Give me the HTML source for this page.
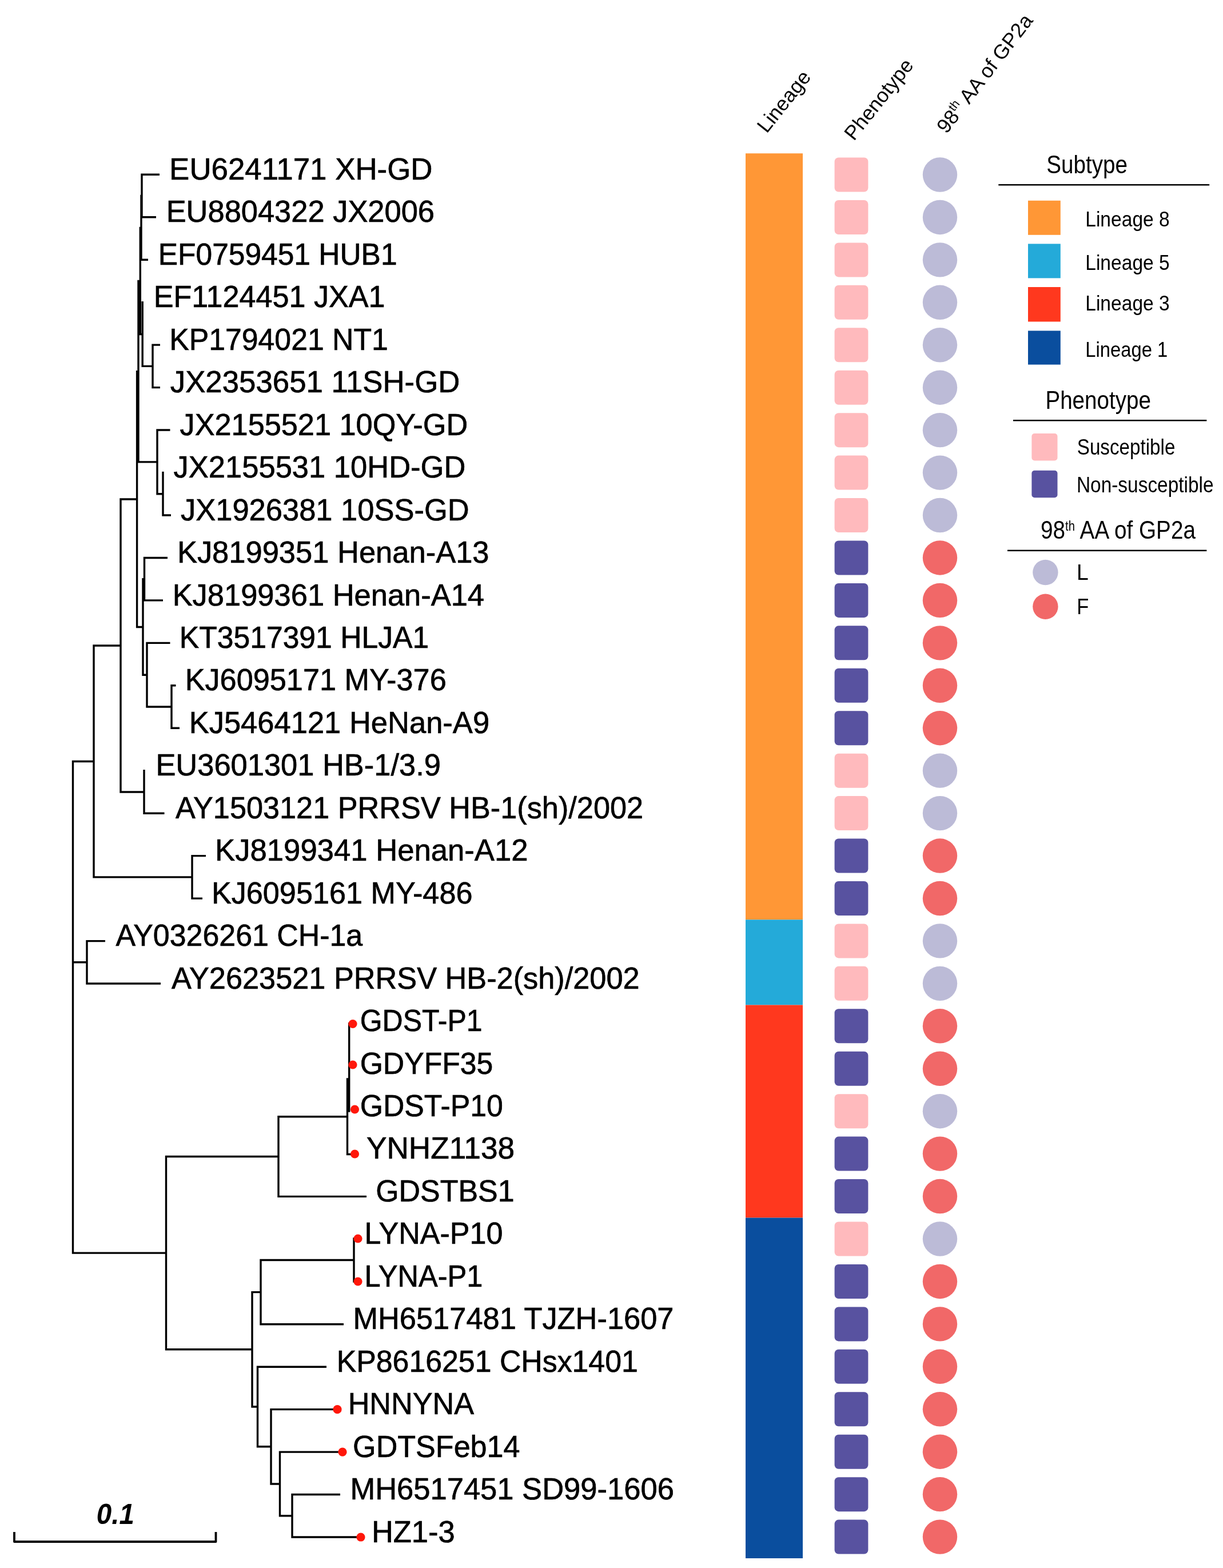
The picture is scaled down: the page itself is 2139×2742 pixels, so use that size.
<!DOCTYPE html>
<html><head><meta charset="utf-8"><title>Phylogenetic tree</title>
<style>
html,body{margin:0;padding:0;background:#fff;}
body{width:2139px;height:2742px;overflow:hidden;}
svg{display:block;}
text{font-family:"Liberation Sans",Arial,Helvetica,sans-serif;fill:#000;}
</style></head><body>
<svg width="2139" height="2742" viewBox="0 0 2139 2742">
<rect width="2139" height="2742" fill="#fff"/>
<path d="M248.00 303.60V381.46M246.30 305.30H279.00M246.30 379.76H273.00M245.30 342.53H248.00M247.00 340.83V455.92M245.30 454.22H259.00M243.60 398.38H247.00M245.30 396.68V586.23M243.60 584.52H249.20M249.20 526.98V642.07M247.50 640.37H267.00M267.00 601.44V679.30M265.30 603.14H280.00M265.30 677.60H280.00M240.30 491.45H245.30M242.00 489.75V809.61M240.30 807.90H275.00M275.00 750.36V865.45M273.30 752.06H297.50M273.30 863.75H285.00M285.00 824.82V902.68M283.30 900.98H299.00M237.90 649.68H242.00M239.60 647.98V1098.14M237.90 1096.44H250.00M250.00 1010.97V1181.90M248.30 1012.67H252.50M252.50 973.74V1051.60M250.80 975.44H293.00M250.80 1049.90H285.00M248.30 1180.20H257.00M257.00 1122.66V1237.75M255.30 1124.36H297.50M255.30 1236.05H300.00M300.00 1197.12V1274.98M298.30 1198.82H307.50M298.30 1273.28H314.00M209.30 873.06H239.60M211.00 871.36V1386.67M209.30 1384.97H252.00M252.00 1346.04V1423.90M250.30 1422.20H287.50M162.30 1129.01H211.00M164.00 1127.31V1535.59M162.30 1533.89H336.00M336.00 1494.96V1572.82M334.30 1496.66H360.00M334.30 1571.12H354.00M152.00 1643.88V1721.74M150.30 1645.58H184.00M150.30 1720.04H281.00M125.80 1682.81H152.00M610.70 1788.30V1944.70M605.80 1887.00H610.70M607.50 1885.30V2020.20M605.80 2018.50H617.00M487.00 1951.05V2094.04M485.30 1952.75H607.50M485.30 2092.34H641.00M619.00 2164.30V2242.70M456.00 2201.80V2317.42M454.30 2203.50H619.00M454.30 2315.72H601.00M511.00 2611.86V2689.72M509.30 2613.56H595.00M509.30 2688.02H631.00M489.50 2537.40V2652.49M487.80 2539.10H599.00M487.80 2650.79H511.00M474.00 2462.94V2596.64M472.30 2464.64H590.00M472.30 2594.94H489.50M450.50 2388.48V2531.49M448.80 2390.18H571.00M448.80 2529.79H474.00M441.00 2257.91V2461.69M439.30 2259.61H456.00M439.30 2459.99H450.50M290.50 2020.85V2361.50M288.80 2022.55H487.00M288.80 2359.80H441.00M125.80 2191.17H290.50M127.50 1329.75V2192.87M125.80 1331.45H164.00" stroke="#000" stroke-width="3.4" fill="none"/>
<circle cx="617" cy="1790.50" r="7.6" fill="#FF170A"/>
<circle cx="617" cy="1862.00" r="7.6" fill="#FF170A"/>
<circle cx="620.5" cy="1940.00" r="7.6" fill="#FF170A"/>
<circle cx="620.5" cy="2018.00" r="7.6" fill="#FF170A"/>
<circle cx="626" cy="2166.00" r="7.6" fill="#FF170A"/>
<circle cx="626" cy="2241.00" r="7.6" fill="#FF170A"/>
<circle cx="590" cy="2464.64" r="7.6" fill="#FF170A"/>
<circle cx="599" cy="2539.10" r="7.6" fill="#FF170A"/>
<circle cx="631" cy="2688.02" r="7.6" fill="#FF170A"/>
<g font-size="54.3" stroke="#000" stroke-width="0.7">
<text x="296.11" y="313.90" textLength="460.44" lengthAdjust="spacingAndGlyphs">EU6241171 XH-GD</text>
<text x="290.64" y="388.36" textLength="469.41" lengthAdjust="spacingAndGlyphs">EU8804322 JX2006</text>
<text x="276.71" y="462.82" textLength="417.90" lengthAdjust="spacingAndGlyphs">EF0759451 HUB1</text>
<text x="268.66" y="537.28" textLength="404.85" lengthAdjust="spacingAndGlyphs">EF1124451 JXA1</text>
<text x="296.19" y="611.74" textLength="382.68" lengthAdjust="spacingAndGlyphs">KP1794021 NT1</text>
<text x="297.78" y="686.20" textLength="506.60" lengthAdjust="spacingAndGlyphs">JX2353651 11SH-GD</text>
<text x="314.54" y="760.66" textLength="503.62" lengthAdjust="spacingAndGlyphs">JX2155521 10QY-GD</text>
<text x="303.53" y="835.12" textLength="510.86" lengthAdjust="spacingAndGlyphs">JX2155531 10HD-GD</text>
<text x="316.03" y="909.58" textLength="504.61" lengthAdjust="spacingAndGlyphs">JX1926381 10SS-GD</text>
<text x="309.88" y="984.04" textLength="545.64" lengthAdjust="spacingAndGlyphs">KJ8199351 Henan-A13</text>
<text x="301.64" y="1058.50" textLength="545.42" lengthAdjust="spacingAndGlyphs">KJ8199361 Henan-A14</text>
<text x="313.69" y="1132.96" textLength="436.56" lengthAdjust="spacingAndGlyphs">KT3517391 HLJA1</text>
<text x="323.65" y="1207.42" textLength="457.05" lengthAdjust="spacingAndGlyphs">KJ6095171 MY-376</text>
<text x="330.63" y="1281.88" textLength="525.46" lengthAdjust="spacingAndGlyphs">KJ5464121 HeNan-A9</text>
<text x="272.39" y="1356.34" textLength="498.51" lengthAdjust="spacingAndGlyphs">EU3601301 HB-1/3.9</text>
<text x="307.00" y="1430.80" textLength="818.08" lengthAdjust="spacingAndGlyphs">AY1503121 PRRSV HB-1(sh)/2002</text>
<text x="376.12" y="1505.26" textLength="547.38" lengthAdjust="spacingAndGlyphs">KJ8199341 Henan-A12</text>
<text x="369.91" y="1579.72" textLength="456.55" lengthAdjust="spacingAndGlyphs">KJ6095161 MY-486</text>
<text x="202.50" y="1654.18" textLength="431.74" lengthAdjust="spacingAndGlyphs">AY0326261 CH-1a</text>
<text x="300.00" y="1728.64" textLength="818.58" lengthAdjust="spacingAndGlyphs">AY2623521 PRRSV HB-2(sh)/2002</text>
<text x="629.74" y="1803.10" textLength="213.84" lengthAdjust="spacingAndGlyphs">GDST-P1</text>
<text x="629.64" y="1877.56" textLength="232.66" lengthAdjust="spacingAndGlyphs">GDYFF35</text>
<text x="629.64" y="1952.02" textLength="250.29" lengthAdjust="spacingAndGlyphs">GDST-P10</text>
<text x="641.02" y="2026.48" textLength="259.03" lengthAdjust="spacingAndGlyphs">YNHZ1138</text>
<text x="657.13" y="2100.94" textLength="242.45" lengthAdjust="spacingAndGlyphs">GDSTBS1</text>
<text x="637.42" y="2175.40" textLength="242.01" lengthAdjust="spacingAndGlyphs">LYNA-P10</text>
<text x="637.53" y="2249.86" textLength="206.82" lengthAdjust="spacingAndGlyphs">LYNA-P1</text>
<text x="617.39" y="2324.32" textLength="561.06" lengthAdjust="spacingAndGlyphs">MH6517481 TJZH-1607</text>
<text x="588.68" y="2398.78" textLength="527.16" lengthAdjust="spacingAndGlyphs">KP8616251 CHsx1401</text>
<text x="608.66" y="2473.24" textLength="220.39" lengthAdjust="spacingAndGlyphs">HNNYNA</text>
<text x="617.12" y="2547.70" textLength="292.42" lengthAdjust="spacingAndGlyphs">GDTSFeb14</text>
<text x="612.38" y="2622.16" textLength="566.47" lengthAdjust="spacingAndGlyphs">MH6517451 SD99-1606</text>
<text x="649.89" y="2696.62" textLength="145.67" lengthAdjust="spacingAndGlyphs">HZ1-3</text>
</g>
<path d="M25 2679V2696H377.5V2679" stroke="#000" stroke-width="3.8" fill="none" stroke-linejoin="round"/>
<text x="168.85" y="2664.5" font-size="50" font-weight="bold" font-style="italic" textLength="66.04" lengthAdjust="spacingAndGlyphs">0.1</text>
<rect x="1304" y="268.25" width="100" height="1340" fill="#FF9736"/>
<rect x="1304" y="1608.25" width="100" height="149.25" fill="#24AAD9"/>
<rect x="1304" y="1757.5" width="100" height="372" fill="#FF381E"/>
<rect x="1304" y="2129.5" width="100" height="595.5" fill="#0A4E9E"/>
<rect x="1459.6" y="275.50" width="58.8" height="60" rx="7" fill="#FFBABD"/>
<circle cx="1644" cy="305.50" r="30.2" fill="#BCBBD7"/>
<rect x="1459.6" y="349.94" width="58.8" height="60" rx="7" fill="#FFBABD"/>
<circle cx="1644" cy="379.94" r="30.2" fill="#BCBBD7"/>
<rect x="1459.6" y="424.38" width="58.8" height="60" rx="7" fill="#FFBABD"/>
<circle cx="1644" cy="454.38" r="30.2" fill="#BCBBD7"/>
<rect x="1459.6" y="498.82" width="58.8" height="60" rx="7" fill="#FFBABD"/>
<circle cx="1644" cy="528.82" r="30.2" fill="#BCBBD7"/>
<rect x="1459.6" y="573.26" width="58.8" height="60" rx="7" fill="#FFBABD"/>
<circle cx="1644" cy="603.26" r="30.2" fill="#BCBBD7"/>
<rect x="1459.6" y="647.70" width="58.8" height="60" rx="7" fill="#FFBABD"/>
<circle cx="1644" cy="677.70" r="30.2" fill="#BCBBD7"/>
<rect x="1459.6" y="722.14" width="58.8" height="60" rx="7" fill="#FFBABD"/>
<circle cx="1644" cy="752.14" r="30.2" fill="#BCBBD7"/>
<rect x="1459.6" y="796.58" width="58.8" height="60" rx="7" fill="#FFBABD"/>
<circle cx="1644" cy="826.58" r="30.2" fill="#BCBBD7"/>
<rect x="1459.6" y="871.02" width="58.8" height="60" rx="7" fill="#FFBABD"/>
<circle cx="1644" cy="901.02" r="30.2" fill="#BCBBD7"/>
<rect x="1459.6" y="945.46" width="58.8" height="60" rx="7" fill="#5852A0"/>
<circle cx="1644" cy="975.46" r="30.2" fill="#F16868"/>
<rect x="1459.6" y="1019.90" width="58.8" height="60" rx="7" fill="#5852A0"/>
<circle cx="1644" cy="1049.90" r="30.2" fill="#F16868"/>
<rect x="1459.6" y="1094.34" width="58.8" height="60" rx="7" fill="#5852A0"/>
<circle cx="1644" cy="1124.34" r="30.2" fill="#F16868"/>
<rect x="1459.6" y="1168.78" width="58.8" height="60" rx="7" fill="#5852A0"/>
<circle cx="1644" cy="1198.78" r="30.2" fill="#F16868"/>
<rect x="1459.6" y="1243.22" width="58.8" height="60" rx="7" fill="#5852A0"/>
<circle cx="1644" cy="1273.22" r="30.2" fill="#F16868"/>
<rect x="1459.6" y="1317.66" width="58.8" height="60" rx="7" fill="#FFBABD"/>
<circle cx="1644" cy="1347.66" r="30.2" fill="#BCBBD7"/>
<rect x="1459.6" y="1392.10" width="58.8" height="60" rx="7" fill="#FFBABD"/>
<circle cx="1644" cy="1422.10" r="30.2" fill="#BCBBD7"/>
<rect x="1459.6" y="1466.54" width="58.8" height="60" rx="7" fill="#5852A0"/>
<circle cx="1644" cy="1496.54" r="30.2" fill="#F16868"/>
<rect x="1459.6" y="1540.98" width="58.8" height="60" rx="7" fill="#5852A0"/>
<circle cx="1644" cy="1570.98" r="30.2" fill="#F16868"/>
<rect x="1459.6" y="1615.42" width="58.8" height="60" rx="7" fill="#FFBABD"/>
<circle cx="1644" cy="1645.42" r="30.2" fill="#BCBBD7"/>
<rect x="1459.6" y="1689.86" width="58.8" height="60" rx="7" fill="#FFBABD"/>
<circle cx="1644" cy="1719.86" r="30.2" fill="#BCBBD7"/>
<rect x="1459.6" y="1764.30" width="58.8" height="60" rx="7" fill="#5852A0"/>
<circle cx="1644" cy="1794.30" r="30.2" fill="#F16868"/>
<rect x="1459.6" y="1838.74" width="58.8" height="60" rx="7" fill="#5852A0"/>
<circle cx="1644" cy="1868.74" r="30.2" fill="#F16868"/>
<rect x="1459.6" y="1913.18" width="58.8" height="60" rx="7" fill="#FFBABD"/>
<circle cx="1644" cy="1943.18" r="30.2" fill="#BCBBD7"/>
<rect x="1459.6" y="1987.62" width="58.8" height="60" rx="7" fill="#5852A0"/>
<circle cx="1644" cy="2017.62" r="30.2" fill="#F16868"/>
<rect x="1459.6" y="2062.06" width="58.8" height="60" rx="7" fill="#5852A0"/>
<circle cx="1644" cy="2092.06" r="30.2" fill="#F16868"/>
<rect x="1459.6" y="2136.50" width="58.8" height="60" rx="7" fill="#FFBABD"/>
<circle cx="1644" cy="2166.50" r="30.2" fill="#BCBBD7"/>
<rect x="1459.6" y="2210.94" width="58.8" height="60" rx="7" fill="#5852A0"/>
<circle cx="1644" cy="2240.94" r="30.2" fill="#F16868"/>
<rect x="1459.6" y="2285.38" width="58.8" height="60" rx="7" fill="#5852A0"/>
<circle cx="1644" cy="2315.38" r="30.2" fill="#F16868"/>
<rect x="1459.6" y="2359.82" width="58.8" height="60" rx="7" fill="#5852A0"/>
<circle cx="1644" cy="2389.82" r="30.2" fill="#F16868"/>
<rect x="1459.6" y="2434.26" width="58.8" height="60" rx="7" fill="#5852A0"/>
<circle cx="1644" cy="2464.26" r="30.2" fill="#F16868"/>
<rect x="1459.6" y="2508.70" width="58.8" height="60" rx="7" fill="#5852A0"/>
<circle cx="1644" cy="2538.70" r="30.2" fill="#F16868"/>
<rect x="1459.6" y="2583.14" width="58.8" height="60" rx="7" fill="#5852A0"/>
<circle cx="1644" cy="2613.14" r="30.2" fill="#F16868"/>
<rect x="1459.6" y="2657.58" width="58.8" height="60" rx="7" fill="#5852A0"/>
<circle cx="1644" cy="2687.58" r="30.2" fill="#F16868"/>
<text x="1830.29" y="303.3" font-size="45" textLength="141.55" lengthAdjust="spacingAndGlyphs">Subtype</text>
<path d="M1746.3 323.2H2115.2" stroke="#000" stroke-width="2.6"/>
<rect x="1798" y="350.8" width="56.8" height="60.0" fill="#FF9736"/>
<text x="1898.21" y="396.25" font-size="37.5" textLength="147.57" lengthAdjust="spacingAndGlyphs">Lineage 8</text>
<rect x="1798" y="426.4" width="56.8" height="60.0" fill="#24AAD9"/>
<text x="1898.21" y="471.8" font-size="37.5" textLength="147.57" lengthAdjust="spacingAndGlyphs">Lineage 5</text>
<rect x="1798" y="502" width="56.8" height="60.5" fill="#FF381E"/>
<text x="1898.21" y="543.1" font-size="37.5" textLength="147.57" lengthAdjust="spacingAndGlyphs">Lineage 3</text>
<rect x="1798" y="578.4" width="56.8" height="59.2" fill="#0A4E9E"/>
<text x="1898.28" y="624.4" font-size="37.5" textLength="143.96" lengthAdjust="spacingAndGlyphs">Lineage 1</text>
<text x="1828.45" y="714.8" font-size="43.5" textLength="184.41" lengthAdjust="spacingAndGlyphs">Phenotype</text>
<path d="M1772 735.2H2110.4" stroke="#000" stroke-width="2.6"/>
<rect x="1804.4" y="758" width="45.1" height="47.5" rx="5" fill="#FFBABD"/>
<rect x="1804.4" y="822.8" width="45.1" height="47.5" rx="5" fill="#5852A0"/>
<text x="1883.78" y="795.2" font-size="38.5" textLength="171.59" lengthAdjust="spacingAndGlyphs">Susceptible</text>
<text x="1882.93" y="860.7" font-size="39" textLength="239.68" lengthAdjust="spacingAndGlyphs">Non-susceptible</text>
<text x="1820" y="942.3" font-size="44" textLength="271" lengthAdjust="spacingAndGlyphs">98<tspan font-size="23" dy="-14.5">th</tspan><tspan dy="14.5"> AA of GP2a</tspan></text>
<path d="M1762 962.8H2110.4" stroke="#000" stroke-width="2.6"/>
<circle cx="1828.4" cy="1001" r="22.2" fill="#BCBBD7"/>
<circle cx="1828.4" cy="1060.7" r="22.2" fill="#F16868"/>
<text x="1883.12" y="1014.3" font-size="39" textLength="20.79" lengthAdjust="spacingAndGlyphs">L</text>
<text x="1883.32" y="1073.6" font-size="38.5" textLength="21.04" lengthAdjust="spacingAndGlyphs">F</text>
<text transform="translate(1341.1,234.3) rotate(-51.5)" font-size="35.5">Lineage</text>
<text transform="translate(1493.6,247.6) rotate(-51.5)" font-size="35.5">Phenotype</text>
<text transform="translate(1655.4,235.3) rotate(-52.5)" font-size="35.5">98<tspan font-size="21.3" dy="-13.5">th</tspan><tspan dy="13.5"> AA of GP2a</tspan></text>
</svg></body></html>
